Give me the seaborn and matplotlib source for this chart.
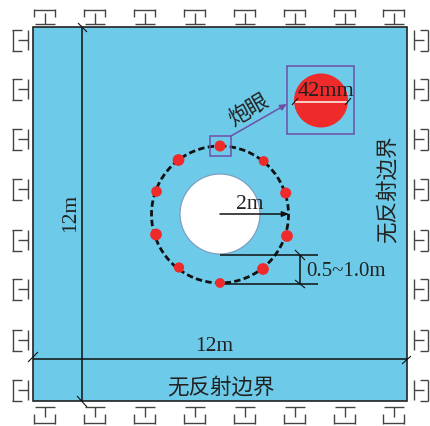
import pandas as pd
import matplotlib
matplotlib.use('Agg')
import matplotlib.pyplot as plt
from matplotlib.patches import Circle, Rectangle
import seaborn as sns

sns.set_style('white')
cjk = ['Noto Sans CJK SC', 'DejaVu Sans']
serif = ['Liberation Serif', 'DejaVu Serif']

# schematic units are the picture's own pixels
hole_x = [220, 263.7, 285.7, 287, 263, 220, 179, 156, 156.5, 178.5]
hole_y = [147, 162, 194, 237, 270, 284, 268.5, 235.5, 192.5, 161]
hole_size = [46, 40, 46, 50, 50, 40, 42, 50, 44, 50]

top_x = [45, 95, 145, 195, 245, 295, 345, 394]
side_y = [41, 90, 140, 190, 241, 290, 341, 391]

plate_color = '#6dcbe9'
red = '#ee2a2a'
purple = '#6f4fa8'
dark = '#222222'

fig = plt.figure(figsize=(4.31, 4.27), dpi=100)
ax = fig.add_axes([0, 0, 1, 1])

# plate and tunnel
ax.add_patch(Rectangle((33, 28), 374, 374, fc=plate_color, ec=dark, lw=1.2, zorder=1))
ax.add_patch(Circle((220, 215), 40, fc='white', ec='#7d9fc0', lw=0.9, zorder=2))
ax.add_patch(Circle((220, 215.5), 68.5, fc='none', ec='#111111', lw=2.0,
                    ls=(0, (2.3, 1.2)), zorder=3))

holes = pd.DataFrame({'x': hole_x, 'y': hole_y, 's': hole_size})
sns.scatterplot(data=holes, x='x', y='y', size='s', sizes=(50, 72), color=red,
                edgecolor='none', legend=False, ax=ax, zorder=5)
ax.set_xlim(0, 431)
ax.set_ylim(427, 0)
ax.axis('off')


def seg(x0, y0, x1, y1, color='#111111', lw=1.1, z=4):
    ax.plot([x0, x1], [y0, y1], color=color, lw=lw, zorder=z, solid_capstyle='butt')


# absorbing boundary symbols
bc = '#444444'
blw = 1.0
for x in top_x:
    seg(x - 10.5, 10.7, x + 10.5, 10.7, bc, blw)
    seg(x - 10.5, 10.2, x - 10.5, 18, bc, blw)
    seg(x + 10.5, 10.2, x + 10.5, 18, bc, blw)
    seg(x, 14, x, 25, bc, blw)
    seg(x - 10, 25, x + 10, 25, bc, blw)
    seg(x - 10.5, 424, x + 10.5, 424, bc, blw)
    seg(x - 10.5, 424.5, x - 10.5, 415, bc, blw)
    seg(x + 10.5, 424.5, x + 10.5, 415, bc, blw)
    seg(x, 418, x, 408, bc, blw)
    seg(x - 10, 408, x + 10, 408, bc, blw)
for y in side_y:
    seg(13, y - 10.5, 13, y + 10.5, bc, blw)
    seg(12.5, y - 10.5, 22, y - 10.5, bc, blw)
    seg(12.5, y + 10.5, 22, y + 10.5, bc, blw)
    seg(18, y, 28.5, y, bc, blw)
    seg(28.5, y - 10, 28.5, y + 10, bc, blw)
    seg(428, y - 10.5, 428, y + 10.5, bc, blw)
    seg(428.5, y - 10.5, 420, y - 10.5, bc, blw)
    seg(428.5, y + 10.5, 420, y + 10.5, bc, blw)
    seg(424.5, y, 414, y, bc, blw)
    seg(414, y - 10, 414, y + 10, bc, blw)

# dimension lines
seg(33, 360, 407, 360)
seg(82.5, 28, 82.5, 402)
seg(78, 24, 87, 33, lw=0.8)
seg(77, 397, 87, 408, lw=0.8)
seg(28, 363, 38, 353, lw=0.8)
seg(402, 365, 411, 357, lw=0.8)
seg(220, 255.7, 318, 255.7)
seg(220, 285, 318, 285)
seg(300, 255.7, 300, 285)
seg(295, 251, 305, 261, lw=0.8)
seg(295, 281, 305, 289, lw=0.8)
ax.annotate('', xy=(289, 215), xytext=(220, 215), zorder=4,
            arrowprops=dict(arrowstyle='-|>,head_width=0.16,head_length=0.4',
                            color='#111111', lw=1.1, shrinkA=0, shrinkB=0))

# detail of one hole
ax.add_patch(Rectangle((287, 67), 67.5, 67.7, fc='none', ec=purple, lw=1.1, zorder=4))
ax.add_patch(Rectangle((210, 137), 20.7, 20, fc='none', ec=purple, lw=1.1, zorder=6))
ax.add_patch(Circle((321, 101.5), 27, fc=red, ec='none', zorder=3))
seg(295, 103, 347, 103, color='#f8d0c8', lw=1.4)
seg(292, 106, 298, 99, lw=0.8)
seg(345, 106, 351, 99, lw=0.8)
ax.annotate('', xy=(287, 105), xytext=(231, 137), zorder=4,
            arrowprops=dict(arrowstyle='-|>,head_width=0.18,head_length=0.4',
                            color=purple, lw=1.1, shrinkA=0, shrinkB=0))

# labels
tc = '#222222'
ax.text(249.5, 205, '2m', family=serif, fontsize=15.5, color=tc, ha='center', va='center', zorder=6)
ax.text(70.5, 213, '12m', family=serif, fontsize=15.5, color=tc, rotation=90, ha='center', va='center', zorder=6)
ax.text(214, 346.5, '12m', family=serif, fontsize=15.5, color=tc, ha='center', va='center', zorder=6)
ax.text(326, 91, '42mm', family=serif, fontsize=16, color=tc, ha='center', va='center', zorder=6)
ax.text(346, 272, '0.5~1.0m', family=serif, fontsize=15, color=tc, ha='center', va='center', zorder=6)
ax.text(221, 388, '无反射边界', family=cjk, fontsize=15.5, color=tc, ha='center', va='center', zorder=6)
ax.text(388, 189, '无反射边界', family=cjk, fontsize=15.5, color=tc, rotation=90, ha='center', va='center', zorder=6)
ax.text(249, 110, '炮眼', family=cjk, fontsize=15.5, color=tc, rotation=30, ha='center', va='center', zorder=6)

fig.savefig('out.png', dpi=100)
